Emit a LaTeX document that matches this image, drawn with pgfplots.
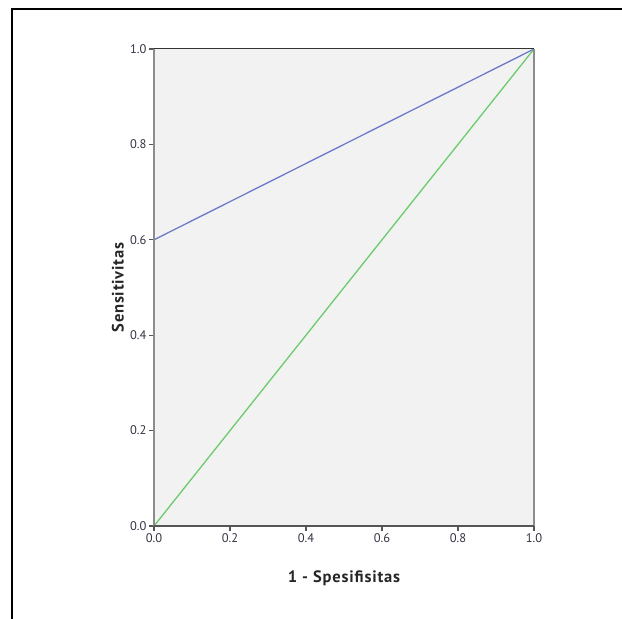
\documentclass[border=0pt]{standalone}
\usepackage{fontspec}
\setmainfont{PT Sans}
\usepackage{pgfplots}
\pgfplotsset{compat=1.18}
\definecolor{roccurve}{HTML}{6B7BC9}
\definecolor{refline}{HTML}{6CCB6C}
\definecolor{plotbg}{HTML}{F2F2F2}
\definecolor{axgray}{HTML}{8C8C8C}
\definecolor{axdark}{HTML}{555555}
\definecolor{ticklab}{HTML}{333344}
\begin{document}
\begin{tikzpicture}[x=1pt,y=1pt]
\path[use as bounding box] (0,0) rectangle (622,619);
% outer frame (top and left only visible)
\draw[line width=2pt, black] (12,0) -- (12,610) -- (622,610);
\begin{axis}[
    at={(154pt,93pt)}, anchor=south west,
    scale only axis, width=380pt, height=477pt,
    xmin=0, xmax=1, ymin=0, ymax=1,
    xtick={0,0.2,0.4,0.6,0.8,1}, ytick={0,0.2,0.4,0.6,0.8,1},
    xtick pos=bottom, ytick pos=left,
    tick align=outside, major tick length=5pt,
    tick style={axdark, line width=1.2pt},
    /pgf/number format/.cd, fixed, fixed zerofill, precision=1, assume math mode=true,
    /pgfplots/.cd,
    tick label style={font=\fontsize{12.5}{14}\selectfont, text=ticklab},
    xticklabel style={yshift=1pt},
    yticklabel style={xshift=1pt},
    axis line style={draw=none},
    axis background/.style={fill=plotbg},
    xlabel={1 - Spesifisitas}, ylabel={Sensitivitas},
    label style={font=\fontsize{16.5}{19}\selectfont\bfseries\addfontfeatures{LetterSpace=5}, text=black!85},
    x label style={at={(axis description cs:0.5,-0.109)}, anchor=center},
    y label style={at={(axis description cs:-0.095,0.5)}, anchor=center},
    clip=false,
]
% ROC curve
\addplot[roccurve, line width=1.3pt] coordinates {(0,0.6) (1,1)};
% reference line
\addplot[refline, line width=1.3pt] coordinates {(0,0) (1,1)};
\draw[axgray, line width=2pt] (rel axis cs:0,0) -- (rel axis cs:0,1);
\draw[axgray, line width=2pt] (rel axis cs:1,0) -- (rel axis cs:1,1);
\draw[axdark, line width=2pt] (rel axis cs:0,0) -- (rel axis cs:1,0);
\draw[black!80, line width=1pt] (rel axis cs:0,1) -- (rel axis cs:1,1);
\end{axis}
\end{tikzpicture}
\end{document}
